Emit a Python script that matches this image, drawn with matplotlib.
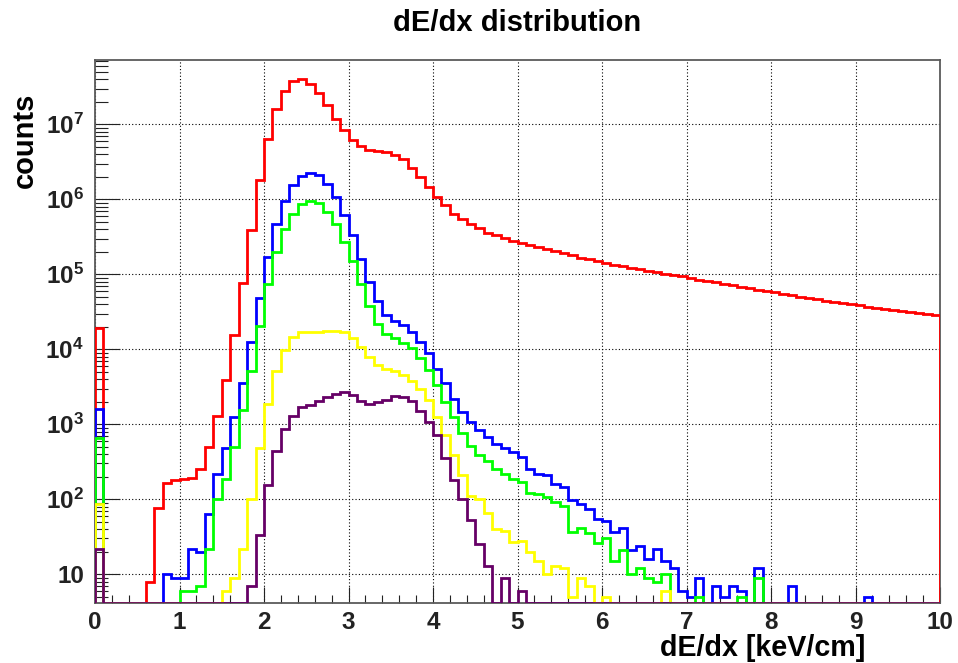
import numpy as np
import matplotlib
matplotlib.use("Agg")
import matplotlib.pyplot as plt
from matplotlib.ticker import FixedLocator, LogLocator, MultipleLocator, NullFormatter

plt.rcParams['font.family'] = ['Liberation Sans', 'DejaVu Sans']
plt.rcParams['font.weight'] = 'bold'
plt.rcParams['mathtext.fontset'] = 'custom'
plt.rcParams['mathtext.rm'] = 'Liberation Sans:bold'
plt.rcParams['mathtext.bf'] = 'Liberation Sans:bold'
plt.rcParams['mathtext.it'] = 'Liberation Sans:bold'

# 100 bins of width 0.1 keV/cm between 0 and 10
bin_edges = np.linspace(0.0, 10.0, 101)

counts_red = [
    1.9e4, 0, 0, 0, 0, 0, 8, 76, 166, 178,
    185, 190, 254, 500, 1300, 3860, 1.55e4, 7.6e4, 3.9e5, 1.8e6,
    6.3e6, 1.58e7, 2.8e7, 3.8e7, 4.0e7, 3.4e7, 2.6e7, 1.8e7, 1.18e7, 8.4e6,
    6.2e6, 5.2e6, 4.6e6, 4.4e6, 4.3e6, 3.9e6, 3.4e6, 2.6e6, 1.98e6, 1.44e6,
    1.08e6, 8.4e5, 6.3e5, 5.5e5, 4.7e5, 4.1e5, 3.6e5, 3.3e5, 3.08e5, 2.78e5,
    2.6e5, 2.46e5, 2.29e5, 2.15e5, 2.03e5, 1.9e5, 1.79e5, 1.66e5, 1.58e5, 1.52e5,
    1.43e5, 1.34e5, 1.28e5, 1.21e5, 1.17e5, 1.1e5, 1.06e5, 1.02e5, 9.8e4, 9.5e4,
    8.9e4, 8.5e4, 8.1e4, 7.8e4, 7.4e4, 7.1e4, 6.8e4, 6.5e4, 6.2e4, 6.0e4,
    5.75e4, 5.5e4, 5.3e4, 5.0e4, 4.8e4, 4.65e4, 4.45e4, 4.3e4, 4.15e4, 4.0e4,
    3.9e4, 3.66e4, 3.5e4, 3.4e4, 3.3e4, 3.2e4, 3.14e4, 3.08e4, 2.98e4, 2.89e4,
]

counts_blue = [
    1580, 0, 0, 0, 0, 0, 0, 0, 10, 9,
    9, 22, 20, 63, 215, 490, 1260, 3500, 1.24e4, 4.8e4,
    1.69e5, 4.7e5, 9.6e5, 1.54e6, 2.03e6, 2.22e6, 2.1e6, 1.62e6, 1.08e6, 6.2e5,
    3.3e5, 1.6e5, 7.8e4, 4.45e4, 2.9e4, 2.4e4, 2.1e4, 1.72e4, 1.27e4, 9000,
    5500, 3500, 2200, 1470, 1080, 840, 684, 546, 480, 431,
    370, 254, 217, 211, 158, 147, 98, 86, 74, 55,
    52, 37, 41, 21, 24, 16, 22, 15, 12, 6,
    5, 9, 0, 7, 5, 7, 6, 0, 12, 0,
    0, 0, 7, 0, 0, 0, 0, 0, 0, 0,
    0, 5, 0, 0, 0, 0, 0, 0, 0, 0,
]

counts_green = [
    650, 0, 0, 0, 0, 0, 0, 0, 0, 0,
    6, 6, 7, 22, 100, 185, 500, 1550, 5190, 2.04e4,
    7.4e4, 1.97e5, 4.0e5, 6.4e5, 8.65e5, 9.5e5, 8.9e5, 6.8e5, 4.7e5, 2.7e5,
    1.49e5, 7.4e4, 3.8e4, 2.2e4, 1.6e4, 1.4e4, 1.2e4, 1.03e4, 7600, 5300,
    3300, 1960, 1240, 760, 520, 390, 327, 254, 217, 186,
    172, 120, 118, 108, 91, 82, 37, 41, 36, 26,
    30, 15, 21, 10, 12, 9, 8, 10, 0, 0,
    0, 5, 0, 0, 0, 0, 5, 0, 9, 0,
    0, 0, 0, 0, 0, 0, 0, 0, 0, 0,
    0, 0, 0, 0, 0, 0, 0, 0, 0, 0,
]

counts_yellow = [
    86, 0, 0, 0, 0, 0, 0, 0, 0, 0,
    0, 0, 0, 0, 0, 6, 9, 22, 100, 490,
    1850, 5190, 9800, 1.45e4, 1.69e4, 1.69e4, 1.7e4, 1.74e4, 1.74e4, 1.69e4,
    1.43e4, 1.08e4, 7950, 6170, 5400, 5130, 4540, 3800, 2950, 2110,
    1260, 720, 390, 211, 111, 101, 66, 40, 38, 27,
    28, 20, 15, 10, 13, 12, 5, 9, 7, 0,
    5, 0, 0, 0, 0, 0, 0, 6, 0, 0,
    0, 0, 0, 0, 0, 0, 0, 0, 0, 0,
    0, 0, 0, 0, 0, 0, 0, 0, 0, 0,
    0, 0, 0, 0, 0, 0, 0, 0, 0, 0,
]

counts_purple = [
    22, 0, 0, 0, 0, 0, 0, 0, 0, 0,
    0, 0, 0, 0, 0, 0, 0, 0, 7, 33,
    155, 440, 865, 1300, 1690, 1790, 2040, 2330, 2560, 2720,
    2460, 2070, 1860, 1960, 2130, 2380, 2330, 2070, 1500, 1060,
    720, 359, 178, 100, 53, 25, 13, 0, 9, 0,
    6, 0, 0, 0, 0, 0, 0, 0, 0, 0,
    0, 0, 0, 0, 0, 0, 0, 0, 0, 0,
    0, 0, 0, 0, 0, 0, 0, 0, 0, 0,
    0, 0, 0, 0, 0, 0, 0, 0, 0, 0,
    0, 0, 0, 0, 0, 0, 0, 0, 0, 0,
]

series = [
    (counts_red, '#ff0000'),
    (counts_blue, '#0000ff'),
    (counts_green, '#00ff00'),
    (counts_yellow, '#ffff00'),
    (counts_purple, '#660066'),
]

y_min, y_max = 4.14, 7.2e7
decade_ticks = [10, 1e2, 1e3, 1e4, 1e5, 1e6, 1e7]
decade_labels = ['10', r'$10^{2}$', r'$10^{3}$', r'$10^{4}$', r'$10^{5}$',
                 r'$10^{6}$', r'$10^{7}$']
x_ticks = list(range(0, 11))
x_labels = [str(v) for v in x_ticks]

W, H = 958, 663
fig = plt.figure(figsize=(W / 100, H / 100), dpi=100)
ax = fig.add_axes([95 / W, 1 - 603 / H, (940 - 95) / W, (603 - 60) / H])

for values, color in series:
    v = np.asarray(values, dtype=float)
    # empty bins sit on the lower edge of the frame
    v = np.where(v > 0, v, y_min)
    ax.stairs(v, bin_edges, baseline=y_min, color=color, linewidth=2.0,
              zorder=3)

ax.set_yscale('log')
ax.set_xlim(0, 10)
ax.set_ylim(y_min, y_max)

ax.xaxis.set_major_locator(FixedLocator(x_ticks))
ax.set_xticklabels(x_labels)
ax.xaxis.set_minor_locator(MultipleLocator(0.2))
ax.yaxis.set_major_locator(FixedLocator(decade_ticks))
ax.set_yticklabels(decade_labels)
ax.yaxis.set_minor_locator(LogLocator(base=10, subs=np.arange(2, 10)))
ax.yaxis.set_minor_formatter(NullFormatter())

ax.grid(which='major', color='black', linestyle=(0, (1, 2)), linewidth=0.8,
        zorder=1)

ax.tick_params(axis='both', which='both', direction='in', top=False,
               right=False, colors='#222222', width=0.8)
ax.tick_params(axis='y', which='major', length=18, pad=8, labelsize=17.5)
ax.tick_params(axis='y', which='minor', length=9)
ax.tick_params(axis='x', which='major', length=11.5, pad=5.5, labelsize=17.5)
ax.tick_params(axis='x', which='minor', length=5.8)
for lab in ax.get_xticklabels() + ax.get_yticklabels():
    lab.set_fontweight('bold')

for side in ['left', 'bottom', 'top', 'right']:
    ax.spines[side].set_color('#5a5a5a')
    ax.spines[side].set_linewidth(1.3)

fig.text(517.5 / W, 1 - 23 / H, 'dE/dx distribution', ha='center',
         va='center', fontsize=21, fontweight='bold')
fig.text(865 / W, 1 - 656.5 / H, 'dE/dx [keV/cm]', ha='right',
         va='baseline', fontsize=20.6, fontweight='bold')
fig.text(25 / W, 1 - 93 / H, 'counts', ha='center', va='top', rotation=90,
         fontsize=21, fontweight='bold')

fig.savefig('out.png', dpi=100, facecolor='white')
